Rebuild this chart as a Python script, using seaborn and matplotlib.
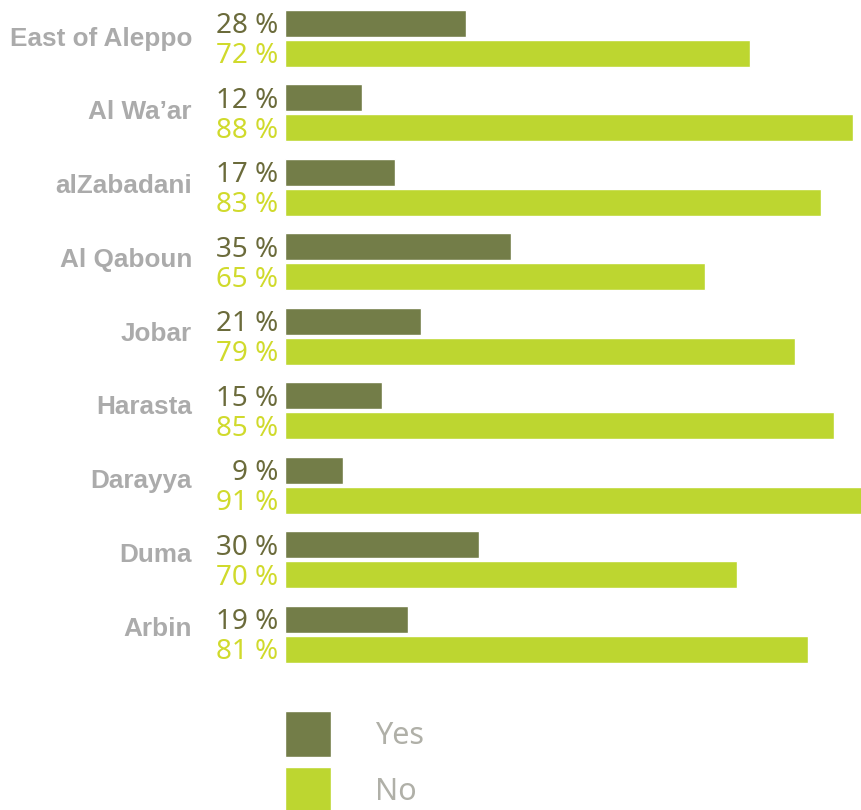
import matplotlib
matplotlib.use("Agg")
import matplotlib.pyplot as plt
import seaborn as sns
import pandas as pd

# Survey answers per location (percent)
locations = ["East of Aleppo", "Al Wa\u2019ar", "alZabadani", "Al Qaboun", "Jobar",
             "Harasta", "Darayya", "Duma", "Arbin"]
yes_pct = [28, 12, 17, 35, 21, 15, 9, 30, 19]
no_pct = [72, 88, 83, 65, 79, 85, 91, 70, 81]
answers = ["Yes", "No"]

bar_colors = {"Yes": "#737d48", "No": "#bdd630"}
text_colors = {"Yes": "#6b6b3b", "No": "#d0da2c"}
label_gray = "#ababab"

df = pd.DataFrame({
    "location": locations * 2,
    "answer": ["Yes"] * len(locations) + ["No"] * len(locations),
    "value": yes_pct + no_pct,
})

sns.set_theme(style="white")
plt.rcParams["font.family"] = ["Noto Sans", "DejaVu Sans"]

W, H = 861, 810
PT = 0.72  # points per pixel at 100 dpi
fig = plt.figure(figsize=(W / 100, H / 100), dpi=100)
left_px = 285
ax = fig.add_axes([left_px / W, 0, (W - left_px) / W, 1])

pitch = 74.5
sns.barplot(data=df, y="location", x="value", hue="answer", hue_order=answers,
            order=locations, palette=bar_colors, orient="h",
            width=2 * 30 / pitch, gap=0.111, saturation=1, ax=ax)

px_per_unit = 6.455
ax.set_xlim(0, (W - left_px) / px_per_unit)
first_center = 38.3
ax.set_ylim((H - first_center) / pitch, -first_center / pitch)

for s in ax.spines.values():
    s.set_visible(False)
ax.set_xticks([])
ax.set_yticks([])
ax.set_xlabel("")
ax.set_ylabel("")

# Location names, right-aligned left of the bars
name_size = 18.8
name_cap_px = 0.729 * name_size / PT
for i, name in enumerate(locations):
    dy = (2.3 + 0.75 * i) - name_cap_px / 2
    ax.annotate(name, xy=(0, i), xytext=(-93 * PT, dy * PT),
                textcoords="offset points", ha="right", va="baseline",
                fontsize=name_size, fontweight="bold", color=label_gray,
                family=["Liberation Sans", "DejaVu Sans"], annotation_clip=False)

# Percent labels to the left of each bar
pct_size = 20
pct_digit_px = 0.714 * pct_size / PT
for answer, container in zip(answers, ax.containers):
    for bar, val in zip(container, container.datavalues):
        yc = bar.get_y() + bar.get_height() / 2
        ax.annotate(f"{int(val)} %", xy=(0, yc), xytext=(-5, -pct_digit_px / 2 * PT),
                    textcoords="offset points", ha="right", va="baseline",
                    fontsize=pct_size, color=text_colors[answer], annotation_clip=False)

handles, labels = ax.get_legend_handles_labels()
fs = 22
fs_px = fs / PT
hh = (46 / fs_px - 0.245) / 0.65
ax.legend(handles, labels, loc="upper left",
          bbox_to_anchor=(left_px / W, 1 - 711 / H), bbox_transform=fig.transFigure,
          frameon=False, fontsize=fs, handlelength=46 / fs_px,
          handleheight=hh, labelspacing=10 / fs_px,
          handletextpad=44 / fs_px, borderpad=0, borderaxespad=0,
          labelcolor="#b0b0a8")

fig.savefig("out.png", dpi=100)
